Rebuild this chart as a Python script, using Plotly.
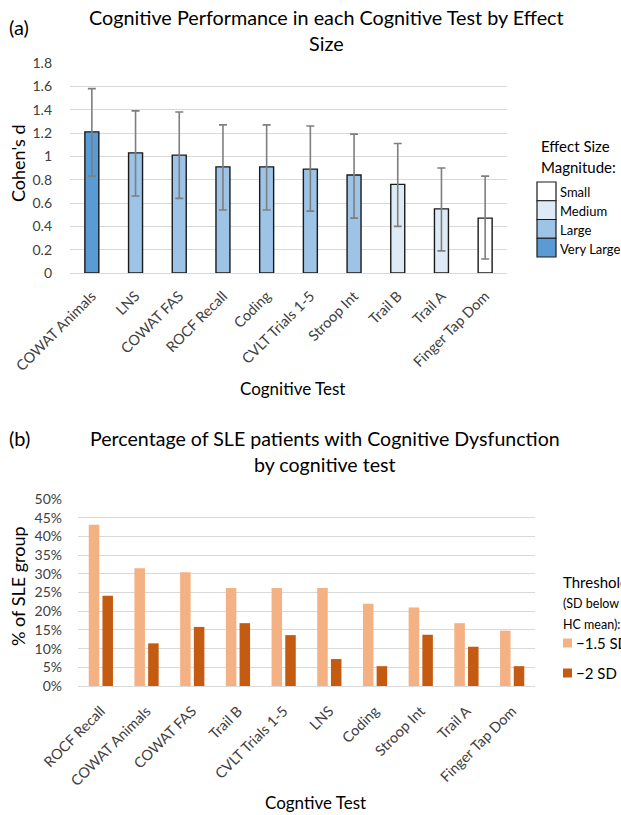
import plotly.graph_objects as go

# ---------------- data: panel (a) ----------------
tests_a = ["COWAT Animals", "LNS", "COWAT FAS", "ROCF Recall", "Coding",
           "CVLT Trials 1-5", "Stroop Int", "Trail B", "Trail A", "Finger Tap Dom"]
cohens_d = [1.21, 1.03, 1.01, 0.91, 0.91, 0.89, 0.84, 0.76, 0.55, 0.47]
ci_upper = [1.58, 1.39, 1.38, 1.27, 1.27, 1.26, 1.19, 1.11, 0.90, 0.83]
ci_lower = [0.83, 0.66, 0.64, 0.54, 0.54, 0.53, 0.47, 0.40, 0.19, 0.12]
magnitude = ["Very Large", "Large", "Large", "Large", "Large",
             "Large", "Large", "Medium", "Medium", "Small"]
magnitude_levels = ["Small", "Medium", "Large", "Very Large"]
y_ticks_a = [0, 0.2, 0.4, 0.6, 0.8, 1, 1.2, 1.4, 1.6, 1.8]

# ---------------- data: panel (b) ----------------
tests_b = ["ROCF Recall", "COWAT Animals", "COWAT FAS", "Trail B", "CVLT Trials 1-5",
           "LNS", "Coding", "Stroop Int", "Trail A", "Finger Tap Dom"]
pct_15sd = [43.1, 31.5, 30.4, 26.2, 26.2, 26.2, 22.0, 21.0, 16.8, 14.8]
pct_2sd = [24.1, 11.4, 15.8, 16.8, 13.6, 7.2, 5.3, 13.7, 10.5, 5.3]
series_b = ["\u22121.5 SD", "\u22122 SD"]
y_ticks_b = [0, 5, 10, 15, 20, 25, 30, 35, 40, 45, 50]

# ---------------- styles ----------------
W, H = 621, 815
FONT = "Lato"
mag_colors = {"Small": "#FFFFFF", "Medium": "#DEEBF7", "Large": "#9DC3E6", "Very Large": "#5B9BD5"}
b_colors = ["#F4B183", "#C55A11"]
GRID = "#D9D9D9"
TICK = "#404040"


def px(x):
    return x / W


def py(y):
    return 1 - y / H


fig = go.Figure()

# panel (a) bars
fig.add_trace(go.Bar(
    x=tests_a, y=cohens_d, xaxis="x", yaxis="y",
    width=0.32,
    marker=dict(color=[mag_colors[m] for m in magnitude],
                line=dict(color="#1A1A1A", width=1.4)),
    error_y=dict(type="data", symmetric=False,
                 array=[u - v for u, v in zip(ci_upper, cohens_d)],
                 arrayminus=[v - l for v, l in zip(cohens_d, ci_lower)],
                 color="#7F7F7F", thickness=1.6, width=4),
    showlegend=False, hoverinfo="skip",
))

# panel (b) bars
for vals, name, col, off in [(pct_15sd, series_b[0], b_colors[0], -0.265),
                             (pct_2sd, series_b[1], b_colors[1], 0.035)]:
    fig.add_trace(go.Bar(
        x=tests_b, y=vals, name=name, xaxis="x2", yaxis="y2",
        width=0.23, offset=off,
        marker=dict(color=col, line=dict(width=0)),
        showlegend=False, hoverinfo="skip",
    ))

axis_common = dict(showgrid=False, showline=True, linecolor=GRID, linewidth=1,
                   ticks="", tickangle=-45, tickfont=dict(family=FONT, size=14.5, color=TICK))
fig.update_layout(
    width=W, height=H,
    margin=dict(l=0, r=0, t=0, b=0, autoexpand=False),
    paper_bgcolor="white", plot_bgcolor="white",
    font=dict(family=FONT, color="#404040"),
    barmode="overlay",
    xaxis=dict(domain=[px(70), px(507)], anchor="y", type="category",
               range=[-0.5, 9.5], ticklabelstandoff=8, **axis_common),
    yaxis=dict(domain=[py(273), py(63)], anchor="x", range=[0, 1.8],
               tickvals=y_ticks_a, showgrid=True, gridcolor=GRID, gridwidth=1,
               zeroline=False, showline=False, ticklabelstandoff=17,
               tickfont=dict(family=FONT, size=14, color=TICK)),
    xaxis2=dict(domain=[px(78), px(535)], anchor="y2", type="category",
                range=[-0.5, 9.5], ticklabelstandoff=10, **axis_common),
    yaxis2=dict(domain=[py(686), py(499)], anchor="x2", range=[0, 50],
                tickvals=y_ticks_b, ticktext=[f"{v}%" for v in y_ticks_b],
                showgrid=True, gridcolor=GRID,
                gridwidth=1, zeroline=False, showline=False, ticklabelstandoff=15,
                tickfont=dict(family=FONT, size=14, color=TICK)),
)

ann = []


def text(t, x, y, size, xanchor="center", color="#000000", angle=0):
    ann.append(dict(text=t, x=px(x), y=py(y), xref="paper", yref="paper",
                    xanchor=xanchor, yanchor="middle", showarrow=False, textangle=angle,
                    font=dict(family=FONT, size=size, color=color)))


# panel labels and titles
text("(a)", 7, 27, 20, xanchor="left")
text("Cognitive Performance in each Cognitive Test by Effect", 326, 17, 19.8)
text("Size", 326, 43, 19.8)
text("Cohen's d", 18, 164, 18, angle=-90)
text("Cognitive Test", 292, 388, 17)

text("(b)", 7, 438, 20, xanchor="left")
text("Percentage of SLE patients with Cognitive Dysfunction", 325, 438, 19.6)
text("by cognitive test", 325, 464, 19.6)
text("% of SLE group", 18, 586, 18, angle=-90)
text("Cogntive Test", 315, 802, 17)

# legend (a): stacked boxes
text("Effect Size", 539, 146, 15, xanchor="left")
text("Magnitude:", 539, 167, 15, xanchor="left")
shapes = []
box_top, box_h = 182, 18.75
for i, lvl in enumerate(magnitude_levels):
    y0 = box_top + i * box_h
    shapes.append(dict(type="rect", xref="paper", yref="paper",
                       x0=px(537), x1=px(556), y0=py(y0 + box_h), y1=py(y0),
                       fillcolor=mag_colors[lvl], line=dict(color="#1A1A1A", width=1.2)))
    text(lvl, 558, y0 + box_h / 2 + 1, 13, xanchor="left")

# legend (b)
text("Threshold", 561, 582, 15, xanchor="left")
text("(SD below", 561, 603, 12.5, xanchor="left")
text("HC mean):", 561, 624, 12.5, xanchor="left")
for name, col, yc in [(series_b[0], b_colors[0], 643), (series_b[1], b_colors[1], 673)]:
    shapes.append(dict(type="rect", xref="paper", yref="paper",
                       x0=px(563), x1=px(572), y0=py(yc + 4.5), y1=py(yc - 4.5),
                       fillcolor=col, line=dict(width=0)))
    text(name, 574, yc, 15, xanchor="left")

fig.update_layout(annotations=ann, shapes=shapes)
fig.write_html("out.html", config={"displayModeBar": False},
               post_script="document.body.style.margin='0';")
